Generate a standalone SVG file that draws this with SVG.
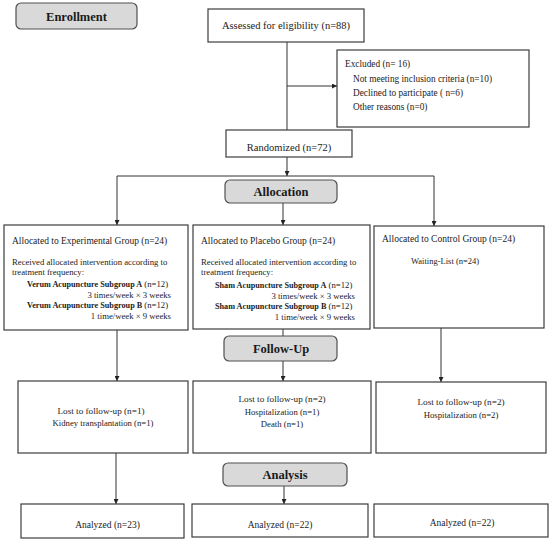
<svg xmlns="http://www.w3.org/2000/svg" width="550" height="543" viewBox="0 0 550 543">
<defs>
<marker id="ah" viewBox="0 0 10 10" refX="10" refY="5" markerWidth="5" markerHeight="5" orient="auto" markerUnits="userSpaceOnUse">
<path d="M0,0 L10,5 L0,10 z" fill="#222"/>
</marker>
<style>
.box{fill:#fff;stroke:#3c3c3c;stroke-width:1.2}
.hdr{fill:#d9d9d9;stroke:#505050;stroke-width:1.2}
.ht{font-family:"Liberation Serif",serif;font-weight:bold;font-size:12.5px;fill:#1a1a1a;text-anchor:middle}
.t{font-family:"Liberation Serif",serif;fill:#222}
.c{text-anchor:middle}
.e{text-anchor:end}
.b{font-weight:bold}
.ln{fill:none;stroke:#333;stroke-width:1}
.ar{fill:none;stroke:#333;stroke-width:1;marker-end:url(#ah)}
</style>
</defs>
<rect width="550" height="543" fill="#fff"/>

<g id="connectors">
<line class="ln" x1="287" y1="42" x2="287" y2="130"/>
<line class="ar" x1="287" y1="86" x2="337" y2="86"/>
<line class="ar" x1="287" y1="157" x2="287" y2="176"/>
<polyline class="ln" points="117,176 434,176"/>
<line class="ar" x1="117" y1="176" x2="117" y2="225"/>
<line class="ar" x1="434" y1="176" x2="434" y2="226"/>
<line class="ar" x1="283" y1="203" x2="283" y2="225"/>
<line class="ar" x1="117" y1="330" x2="117" y2="381"/>
<line class="ln" x1="283" y1="329" x2="283" y2="336"/>
<line class="ar" x1="283" y1="361" x2="283" y2="381"/>
<line class="ar" x1="441" y1="328" x2="441" y2="382"/>
<line class="ar" x1="116" y1="453" x2="116" y2="504"/>
<line class="ar" x1="284" y1="486" x2="284" y2="504"/>
</g>

<g id="enrollment">
<rect class="hdr" x="16" y="3" width="121" height="26" rx="5"/>
<text class="ht" x="76.5" y="21">Enrollment</text>
</g>

<g id="assessed">
<rect class="box" x="208" y="9" width="156" height="33"/>
<text class="t c" x="286" y="29" font-size="10.5">Assessed for eligibility (n=88)</text>
</g>

<g id="excluded">
<rect class="box" x="337" y="50" width="192" height="77"/>
<text class="t" x="345" y="67" font-size="9.3">Excluded (n= 16)</text>
<text class="t" x="353" y="82" font-size="9.3">Not meeting inclusion criteria (n=10)</text>
<text class="t" x="353" y="95.5" font-size="9.3">Declined to participate ( n=6)</text>
<text class="t" x="353" y="110" font-size="9.3">Other reasons (n=0)</text>
</g>

<g id="randomized">
<rect class="box" x="226" y="130" width="126" height="27"/>
<text class="t c" x="289" y="150.5" font-size="10.5">Randomized (n=72)</text>
</g>

<g id="allocation">
<rect class="hdr" x="225" y="180" width="112" height="23" rx="5"/>
<text class="ht" x="281" y="196">Allocation</text>
</g>

<g id="experimental">
<rect class="box" x="4" y="225" width="184" height="105"/>
<text class="t" x="12" y="243.5" font-size="9.5">Allocated to Experimental Group (n=24)</text>
<text class="t" x="12" y="264.5" font-size="8.7">Received allocated intervention according to</text>
<text class="t" x="12" y="275" font-size="8.7">treatment frequency:</text>
<text class="t" x="27" y="287" font-size="8.7"><tspan class="b" font-size="8.2">Verum Acupuncture Subgroup A</tspan> (n=12)</text>
<text class="t e" x="171" y="297.5" font-size="8.7">3 times/week × 3 weeks</text>
<text class="t" x="27" y="308" font-size="8.7"><tspan class="b" font-size="8.2">Verum Acupuncture Subgroup B</tspan> (n=12)</text>
<text class="t e" x="171" y="318.5" font-size="8.7">1 time/week × 9 weeks</text>
</g>

<g id="placebo">
<rect class="box" x="193" y="225" width="177" height="104"/>
<text class="t" x="201" y="243.5" font-size="9.5">Allocated to Placebo Group (n=24)</text>
<text class="t" x="201" y="264.5" font-size="8.7">Received allocated intervention according to</text>
<text class="t" x="201" y="275" font-size="8.7">treatment frequency:</text>
<text class="t" x="215" y="288" font-size="8.7"><tspan class="b" font-size="8.2">Sham Acupuncture Subgroup A</tspan> (n=12)</text>
<text class="t e" x="355" y="298.5" font-size="8.7">3 times/week × 3 weeks</text>
<text class="t" x="215" y="309" font-size="8.7"><tspan class="b" font-size="8.2">Sham Acupuncture Subgroup B</tspan> (n=12)</text>
<text class="t e" x="355" y="319.5" font-size="8.7">1 time/week × 9 weeks</text>
</g>

<g id="control">
<rect class="box" x="374" y="226" width="170" height="102"/>
<text class="t" x="382" y="241.5" font-size="9.5">Allocated to Control Group (n=24)</text>
<text class="t" x="411" y="264" font-size="8.5">Waiting-List (n=24)</text>
</g>

<g id="followup">
<rect class="hdr" x="224" y="336" width="113" height="25" rx="5"/>
<text class="ht" x="281" y="353">Follow-Up</text>
</g>

<g id="lost-exp">
<rect class="box" x="18" y="381" width="170" height="72"/>
<text class="t c" x="101" y="414" font-size="9.2">Lost to follow-up (n=1)</text>
<text class="t c" x="103" y="426" font-size="8.7">Kidney transplantation (n=1)</text>
</g>

<g id="lost-placebo">
<rect class="box" x="193" y="381" width="178" height="72"/>
<text class="t c" x="282" y="402" font-size="9.2">Lost to follow-up (n=2)</text>
<text class="t c" x="282" y="414.5" font-size="8.7">Hospitalization (n=1)</text>
<text class="t c" x="282" y="427" font-size="8.7">Death (n=1)</text>
</g>

<g id="lost-control">
<rect class="box" x="376" y="382" width="170" height="71"/>
<text class="t c" x="461" y="405" font-size="9.2">Lost to follow-up (n=2)</text>
<text class="t c" x="461" y="417.5" font-size="8.7">Hospitalization (n=2)</text>
</g>

<g id="analysis">
<rect class="hdr" x="223" y="463" width="124" height="23" rx="5"/>
<text class="ht" x="285" y="479">Analysis</text>
</g>

<g id="analyzed-exp">
<rect class="box" x="21" y="504" width="163" height="34"/>
<text class="t c" x="107.5" y="528" font-size="9.5">Analyzed (n=23)</text>
</g>

<g id="analyzed-placebo">
<rect class="box" x="192" y="504" width="176" height="33"/>
<text class="t c" x="280" y="528" font-size="9.5">Analyzed (n=22)</text>
</g>

<g id="analyzed-control">
<rect class="box" x="374" y="504" width="174" height="33"/>
<text class="t c" x="462" y="526" font-size="9.5">Analyzed (n=22)</text>
</g>
</svg>
